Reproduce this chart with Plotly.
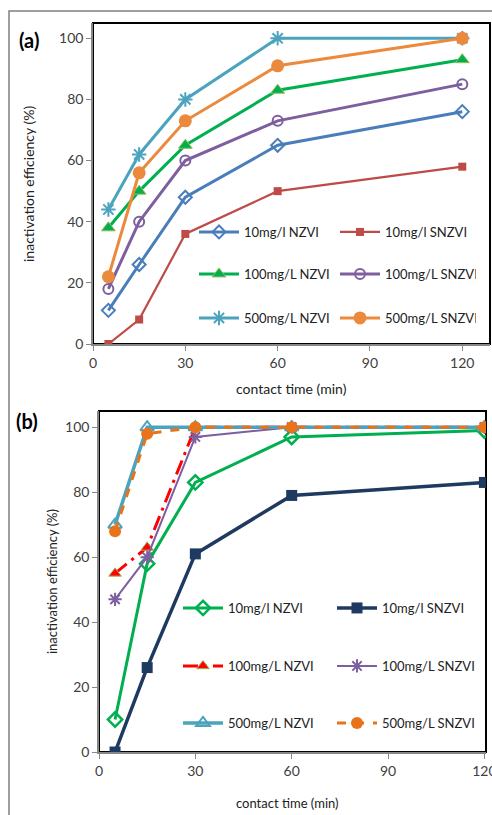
import plotly.graph_objects as go

W, H = 492, 815

# ---------------- data ----------------
time_min = [5, 15, 30, 60, 120]

a_series = ["10mg/l NZVI", "10mg/l SNZVI", "100mg/L NZVI", "100mg/L SNZVI", "500mg/L NZVI", "500mg/L SNZVI"]
a_10_nzvi = [11, 26, 48, 65, 76]
a_10_snzvi = [0, 8, 36, 50, 58]
a_100_nzvi = [38, 50, 65, 83, 93]
a_100_snzvi = [18, 40, 60, 73, 85]
a_500_nzvi = [44, 62, 80, 100, 100]
a_500_snzvi = [22, 56, 73, 91, 100]

b_series = ["10mg/l NZVI", "10mg/l SNZVI", "100mg/L NZVI", "100mg/L SNZVI", "500mg/L NZVI", "500mg/L SNZVI"]
b_10_nzvi = [10, 58, 83, 97, 99]
b_10_snzvi = [0, 26, 61, 79, 83]
b_100_nzvi = [55, 63, 100, 100, 100]
b_100_snzvi = [47, 60, 97, 100, 100]
b_500_nzvi = [70, 100, 100, 100, 100]
b_500_snzvi = [68, 98, 100, 100, 100]

x_ticks = [0, 30, 60, 90, 120]
y_ticks = [0, 20, 40, 60, 80, 100]

FONT = "Lato"
GREY = "#878787"

def px_x(p):
    return p / W

def px_y(p):
    return 1 - p / H

fig = go.Figure()

# ---------- panel (a) ----------
a_styles = [
    dict(line=dict(color="#4A7EBB", width=3), marker=dict(symbol="diamond-open", size=10, color="#4A7EBB", line=dict(width=2, color="#4A7EBB"))),
    dict(line=dict(color="#BE4B48", width=2.2), marker=dict(symbol="square", size=8, color="#BE4B48")),
    dict(line=dict(color="#00B050", width=3), marker=dict(symbol="triangle-up", size=12, color="#00B050", line=dict(width=1, color="#9BBB59"))),
    dict(line=dict(color="#7D5FA0", width=3), marker=dict(symbol="circle-open", size=10, color="#7D5FA0", line=dict(width=2, color="#7D5FA0"))),
    dict(line=dict(color="#4BA3BD", width=3), marker=dict(symbol="asterisk-open", size=12, color="#4BA3BD", line=dict(width=2, color="#4BA3BD"))),
    dict(line=dict(color="#EB8A3C", width=3), marker=dict(symbol="circle", size=13, color="#EB8A3C")),
]
a_values = [a_10_nzvi, a_10_snzvi, a_100_nzvi, a_100_snzvi, a_500_nzvi, a_500_snzvi]
a_legends = ["legend", "legend", "legend2", "legend2", "legend3", "legend3"]
for name, vals, st, lg in zip(a_series, a_values, a_styles, a_legends):
    fig.add_trace(go.Scatter(x=time_min, y=vals, name=name, mode="lines+markers",
                             xaxis="x", yaxis="y", legend=lg, **st))

# ---------- panel (b) ----------
b_styles = [
    dict(line=dict(color="#00B050", width=3), marker=dict(symbol="diamond-open", size=11, color="#00B050", line=dict(width=2.5, color="#00B050"))),
    dict(line=dict(color="#1F3A60", width=3.5), marker=dict(symbol="square", size=11, color="#1F3A60")),
    dict(line=dict(color="#FF0000", width=3, dash="longdashdot"), marker=dict(symbol="triangle-up", size=11, color="#FF0000", line=dict(width=1, color="#9BBB59"))),
    dict(line=dict(color="#7D5FA0", width=2), marker=dict(symbol="asterisk-open", size=11, color="#7D5FA0", line=dict(width=2, color="#7D5FA0"))),
    dict(line=dict(color="#4BA3BD", width=3.5), marker=dict(symbol="triangle-up-open", size=12, color="#4BA3BD", line=dict(width=2, color="#4BA3BD"))),
    dict(line=dict(color="#E8731A", width=3, dash="dash"), marker=dict(symbol="circle", size=12, color="#E8731A")),
]
b_values = [b_10_nzvi, b_10_snzvi, b_100_nzvi, b_100_snzvi, b_500_nzvi, b_500_snzvi]
b_legends = ["legend4", "legend4", "legend5", "legend5", "legend6", "legend6"]
for name, vals, st, lg in zip(b_series, b_values, b_styles, b_legends):
    fig.add_trace(go.Scatter(x=time_min, y=vals, name=name, mode="lines+markers",
                             xaxis="x2", yaxis="y2", legend=lg, **st))

axis_common = dict(showgrid=False, zeroline=False, showline=True, linecolor=GREY, linewidth=1.5,
                   ticks="outside", ticklen=5, tickcolor=GREY, tickwidth=1.2,
                   ticklabeloverflow="allow",
                   tickfont=dict(family=FONT, size=14, color="#404040"))

fig.update_layout(
    width=W, height=H, margin=dict(l=0, r=0, t=0, b=0, autoexpand=False),
    paper_bgcolor="white", plot_bgcolor="white",
    font=dict(family=FONT, color="#222222"),
    xaxis=dict(domain=[px_x(93), px_x(490)], range=[0, 129], tickvals=x_ticks, anchor="y", **axis_common),
    yaxis=dict(domain=[px_y(344), px_y(23)], range=[0, 105], tickvals=y_ticks, anchor="x", **axis_common),
    xaxis2=dict(domain=[px_x(99), px_x(486)], range=[0, 120.5], tickvals=x_ticks, anchor="y2", **axis_common),
    yaxis2=dict(domain=[px_y(752), px_y(411)], range=[0, 105], tickvals=y_ticks, anchor="x2", **axis_common),
)

leg_common = dict(orientation="h", xanchor="left", yanchor="middle", bgcolor="rgba(0,0,0,0)",
                  font=dict(family=FONT, size=13, color="#222222"), itemwidth=40,
                  entrywidthmode="pixels", traceorder="normal")
fig.update_layout(
    legend=dict(x=px_x(194), y=px_y(232), entrywidth=86, **leg_common),
    legend2=dict(x=px_x(194), y=px_y(274), entrywidth=86, **leg_common),
    legend3=dict(x=px_x(194), y=px_y(318), entrywidth=86, **leg_common),
    legend4=dict(x=px_x(178), y=px_y(608), entrywidth=99, **leg_common),
    legend5=dict(x=px_x(178), y=px_y(666), entrywidth=99, **leg_common),
    legend6=dict(x=px_x(178), y=px_y(723), entrywidth=99, **leg_common),
)

shapes = [
    # outer frame
    dict(type="rect", xref="paper", yref="paper", x0=px_x(9), x1=1.05, y0=-0.05, y1=px_y(11),
         line=dict(color="#7F7F7F", width=1.5), layer="below"),
    # plot-area borders (black top/right)
    dict(type="rect", xref="x domain", yref="y domain", x0=0, x1=1, y0=0, y1=1,
         line=dict(color="black", width=2), layer="below"),
    dict(type="rect", xref="x2 domain", yref="y2 domain", x0=0, x1=1, y0=0, y1=1,
         line=dict(color="black", width=2), layer="below"),
]
fig.update_layout(shapes=shapes)

ann_common = dict(xref="paper", yref="paper", showarrow=False, xanchor="center", yanchor="middle")
annotations = [
    dict(text="<b>(a)</b>", x=px_x(29), y=px_y(40), font=dict(family=FONT, size=20, color="black"), **ann_common),
    dict(text="<b>(b)</b>", x=px_x(27), y=px_y(421), font=dict(family=FONT, size=20, color="black"), **ann_common),
    dict(text="inactivation efficiency (%)", x=px_x(28), y=px_y(184), textangle=-90,
         font=dict(family=FONT, size=14, color="#222222"), **ann_common),
    dict(text="contact time (min)", x=px_x(291), y=px_y(388),
         font=dict(family=FONT, size=14, color="#222222"), **ann_common),
    dict(text="inactivation efficiency (%)", x=px_x(52), y=px_y(582), textangle=-90,
         font=dict(family=FONT, size=13, color="#222222"), **ann_common),
    dict(text="contact time (min)", x=px_x(287), y=px_y(803),
         font=dict(family=FONT, size=13, color="#222222"), **ann_common),
]
fig.update_layout(annotations=annotations)

fig.write_html("out.html")
